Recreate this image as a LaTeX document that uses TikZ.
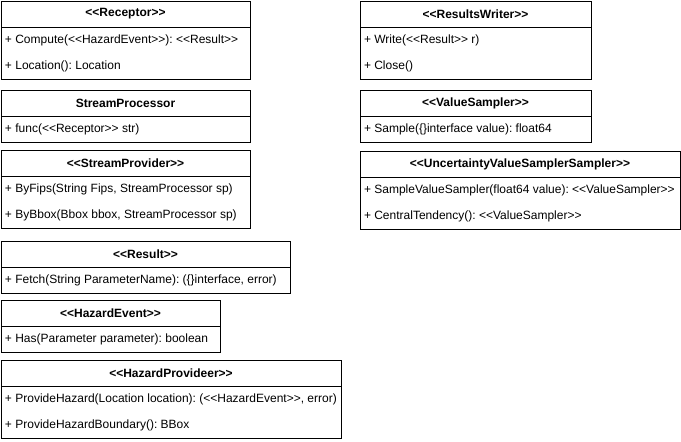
\documentclass[tikz,border=0pt]{standalone}
\usepackage{fontspec}
\setmainfont{Liberation Sans}
\usetikzlibrary{positioning}
\newcommand{\stereo}[1]{<\kern0pt<#1>\kern0pt>}
\frenchspacing

\begin{document}
\begin{tikzpicture}[x=1pt,y=1pt]
\tikzstyle{head}=[draw, rectangle, minimum height=26pt, inner sep=0pt, outer sep=0pt, anchor=north west, font=\fontsize{12}{14}\selectfont\bfseries];
\tikzstyle{row}=[rectangle, minimum height=26pt, inner xsep=4pt, inner ysep=0pt, outer sep=0pt, anchor=north west, font=\fontsize{12}{14}\selectfont];
\useasboundingbox (0,0) rectangle (681,-442);
\begin{scope}[line width=1pt]
  % left column
  \node (receptor) at (1,-1) [head, minimum width=249pt]{\stereo{Receptor}};
  \node (compute) [below=0pt of receptor.south west, row]{+ Compute(\stereo{HazardEvent}): \stereo{Result}};
  \node (location) [below=0pt of compute.south west, row]{+ Location(): Location};
  \draw (receptor.south west) rectangle (location.south west -| receptor.east);

  \node (processor) at (1,-90) [head, minimum width=249pt]{StreamProcessor};
  \node (func) [below=0pt of processor.south west, row]{+ func(\stereo{Receptor} str)};
  \draw (processor.south west) rectangle (func.south west -| processor.east);

  \node (provider) at (1,-150) [head, minimum width=249pt]{\stereo{StreamProvider}};
  \node (byfips) [below=0pt of provider.south west, row]{+ ByFips(String Fips, StreamProcessor sp)};
  \node (bybbox) [below=0pt of byfips.south west, row]{+ ByBbox(Bbox bbox, StreamProcessor sp)};
  \draw (provider.south west) rectangle (bybbox.south west -| provider.east);

  \node (result) at (1,-241) [head, minimum width=289pt]{\stereo{Result}};
  \node (fetch) [below=0pt of result.south west, row]{+ Fetch(String ParameterName): (\{\}interface, error)};
  \draw (result.south west) rectangle (fetch.south west -| result.east);

  \node (event) at (1,-300) [head, minimum width=219pt]{\stereo{HazardEvent}};
  \node (has) [below=0pt of event.south west, row]{+ Has(Parameter parameter): boolean};
  \draw (event.south west) rectangle (has.south west -| event.east);

  \node (hazprov) at (1,-360) [head, minimum width=340pt]{\stereo{HazardProvideer}};
  \node (provide) [below=0pt of hazprov.south west, row]{+ ProvideHazard(Location location): (\stereo{HazardEvent}, error)};
  \node (boundary) [below=0pt of provide.south west, row]{+ ProvideHazardBoundary(): BBox};
  \draw (hazprov.south west) rectangle (boundary.south west -| hazprov.east);

  % right column
  \node (writer) at (360,-1) [head, minimum width=231pt]{\stereo{ResultsWriter}};
  \node (write) [below=0pt of writer.south west, row]{+ Write(\stereo{Result} r)};
  \node (close) [below=0pt of write.south west, row]{+ Close()};
  \draw (writer.south west) rectangle (close.south west -| writer.east);

  \node (sampler) at (360,-90) [head, minimum width=231pt]{\stereo{ValueSampler}};
  \node (sample) [below=0pt of sampler.south west, row]{+ Sample(\{\}interface value): float64};
  \draw (sampler.south west) rectangle (sample.south west -| sampler.east);

  \node (uncert) at (360,-151) [head, minimum width=320pt]{\stereo{UncertaintyValueSamplerSampler}};
  \node (samplevs) [below=0pt of uncert.south west, row]{+ SampleValueSampler(float64 value): \stereo{ValueSampler}};
  \node (central) [below=0pt of samplevs.south west, row]{+ CentralTendency(): \stereo{ValueSampler}};
  \draw (uncert.south west) rectangle (central.south west -| uncert.east);
\end{scope}
\end{tikzpicture}
\end{document}
